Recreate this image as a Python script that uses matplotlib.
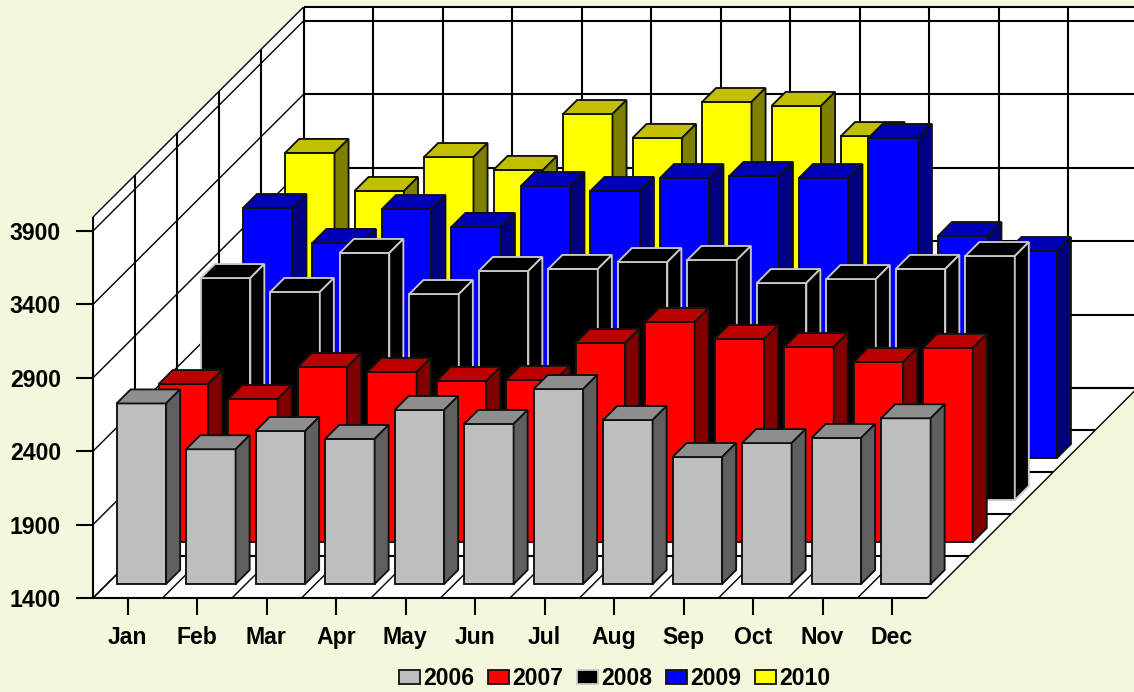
import matplotlib
matplotlib.use('Agg')
import matplotlib.pyplot as plt
from matplotlib.patches import Patch, Polygon

months = ['Jan', 'Feb', 'Mar', 'Apr', 'May', 'Jun', 'Jul', 'Aug', 'Sep', 'Oct', 'Nov', 'Dec']
years = ['2006', '2007', '2008', '2009', '2010']
y_ticks = [1400, 1900, 2400, 2900, 3400, 3900]

v2006 = [2630, 2318, 2442, 2388, 2585, 2490, 2728, 2517, 2265, 2360, 2395, 2529]
v2007 = [2476, 2374, 2592, 2558, 2497, 2504, 2756, 2899, 2783, 2728, 2626, 2722]
v2008 = [2912, 2817, 3083, 2803, 2960, 2974, 3021, 3035, 2878, 2905, 2974, 3062]
v2009 = [3103, 2865, 3096, 2974, 3253, 3219, 3307, 3321, 3307, 3580, 2912, 2810]
v2010 = [3192, 2933, 3164, 3076, 3457, 3294, 3539, 3512, 3307]  # no bars after Sep

Y_MIN = 1400
Y_MAX = 3995
BG = '#F5F7DC'
LABEL_FONT = dict(family='Liberation Sans', fontweight='bold', fontsize=16.6)

# colours per series: front, top, side, edge
styles = [
    ('#BEBEBE', '#8E8E8E', '#5F5F5F', '#111111'),
    ('#FF0000', '#BB0000', '#800000', '#111111'),
    ('#000000', '#000000', '#000000', '#C8C8C8'),
    ('#0000FF', '#0000B8', '#000080', '#111111'),
    ('#FFFF00', '#C0C000', '#808000', '#111111'),
]


def proj(cat, depth, value):
    # oblique projection of (month, series row, value) to pixels
    return (93 + 69.5 * cat + 42.1 * depth, 598 - 42 * depth - (value - Y_MIN) * 0.1468)


def line(ax, p0, p1, lw, z=1):
    ax.plot([p0[0], p1[0]], [p0[1], p1[1]], color='black', lw=lw, zorder=z, solid_capstyle='butt')


def draw_bar(ax, cat, row, value, style, z):
    front, top, side, edge = style
    x0, x1 = cat + 0.138, cat + 0.85
    d0, d1 = row + 1 / 3, row + 2 / 3
    faces = [
        ([(x0, d0, Y_MIN), (x1, d0, Y_MIN), (x1, d0, value), (x0, d0, value)], front),
        ([(x0, d0, value), (x1, d0, value), (x1, d1, value), (x0, d1, value)], top),
        ([(x1, d0, Y_MIN), (x1, d1, Y_MIN), (x1, d1, value), (x1, d0, value)], side),
    ]
    for pts, color in faces:
        ax.add_patch(Polygon([proj(*p) for p in pts], closed=True, facecolor=color,
                             edgecolor=edge, lw=1.35, joinstyle='miter', zorder=z))


fig = plt.figure(figsize=(11.34, 6.92), dpi=100, facecolor=BG)
ax = fig.add_axes([0, 0, 1, 1])
ax.set_xlim(0, 1134)
ax.set_ylim(692, 0)
ax.axis('off')

n_cat = len(months)
n_row = len(years)

# walls and floor
ax.add_patch(Polygon([proj(0, 0, Y_MIN), proj(0, n_row, Y_MIN), proj(0, n_row, Y_MAX), proj(0, 0, Y_MAX)],
                     facecolor='white', edgecolor='none', zorder=0))
ax.add_patch(Polygon([proj(0, n_row, Y_MIN), proj(n_cat, n_row, Y_MIN), proj(n_cat, n_row, Y_MAX), proj(0, n_row, Y_MAX)],
                     facecolor='white', edgecolor='none', zorder=0))
ax.add_patch(Polygon([proj(0, 0, Y_MIN), proj(n_cat, 0, Y_MIN), proj(n_cat, n_row, Y_MIN), proj(0, n_row, Y_MIN)],
                     facecolor='white', edgecolor='none', zorder=0))

# grid
for v in y_ticks + [Y_MAX]:
    line(ax, proj(0, 0, v), proj(0, n_row, v), 1.0)
    line(ax, proj(0, n_row, v), proj(n_cat, n_row, v), 1.5)
for r in range(n_row + 1):
    line(ax, proj(0, r, Y_MIN), proj(0, r, Y_MAX), 1.5)
    line(ax, proj(0, r, Y_MIN), proj(n_cat, r, Y_MIN), 1.5)
for c in range(n_cat + 1):
    line(ax, proj(c, 0, Y_MIN), proj(c, n_row, Y_MIN), 1.0)
    line(ax, proj(c, n_row, Y_MIN), proj(c, n_row, Y_MAX), 1.5)

# ticks and labels
for v in y_ticks:
    x, y = proj(0, 0, v)
    line(ax, (x - 17, y), (x, y), 1.5)
    ax.text(61, y, str(v), ha='right', va='center_baseline', color='black', **LABEL_FONT)
for i, m in enumerate(months):
    x, y = proj(i + 0.5, 0, Y_MIN)
    line(ax, (x, y), (x, y + 17), 1.5)
    ax.text(x - 0.5, 635, m, ha='center', va='center_baseline', color='black', **LABEL_FONT)

# bars, back row first
series = [v2006, v2007, v2008, v2009, v2010]
for row in range(n_row - 1, -1, -1):
    for cat, value in enumerate(series[row]):
        draw_bar(ax, cat, row, value, styles[row], 10 + (n_row - row))

handles = [Patch(facecolor=s[0], edgecolor=s[3], lw=1.3) for s in styles]
ax.legend(handles, years, ncol=5, frameon=False, loc='center', bbox_to_anchor=(614.5, 678.5),
          bbox_transform=ax.transData, handlelength=0.92, handleheight=0.6, handletextpad=0.13,
          columnspacing=0.6, borderpad=0, borderaxespad=0,
          prop=dict(family='Liberation Sans', weight='bold', size=16.6))

fig.savefig('out.png', dpi=100, facecolor=BG)
